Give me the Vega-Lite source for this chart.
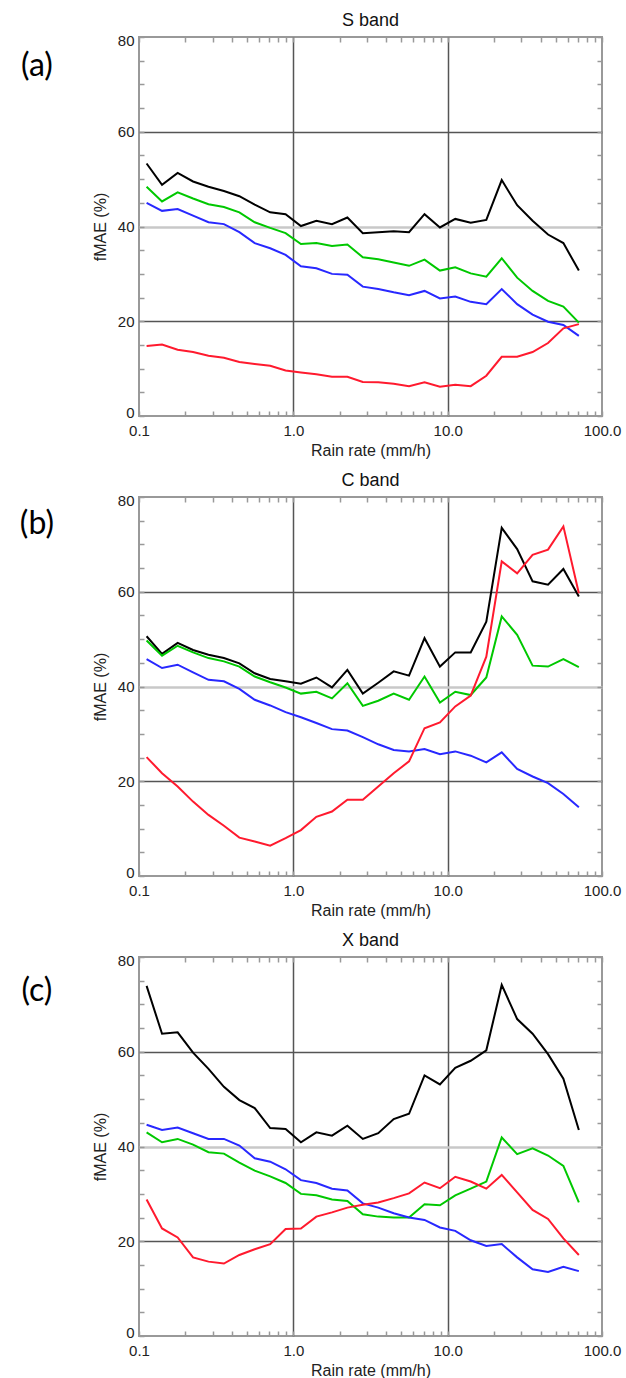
{
"$schema":"https://vega.github.io/schema/vega-lite/v6.json",
"padding":{"left":18,"top":11,"right":4,"bottom":4},
"spacing":12,
"config":{
 "view":{"stroke":"#999","strokeWidth":2},
 "font":"Liberation Sans",
 "axis":{"labelFont":"Liberation Sans","labelFontSize":15,"labelColor":"#222","titleFont":"Liberation Sans","titleFontSize":16,"titleFontWeight":"normal","titleColor":"#222","domain":false,"tickColor":"#999","tickWidth":1.5,"labelOverlap":false,"labelFlush":false},
 "title":{"font":"Liberation Sans","fontSize":18,"fontWeight":"normal","color":"#111","offset":3}
},
"datasets":{"fmae":[
{"band":"S","series":"black","rate":0.112,"fmae":53.3},{"band":"S","series":"black","rate":0.141,"fmae":48.8},{"band":"S","series":"black","rate":0.178,"fmae":51.3},{"band":"S","series":"black","rate":0.224,"fmae":49.5},{"band":"S","series":"black","rate":0.282,"fmae":48.4},{"band":"S","series":"black","rate":0.355,"fmae":47.5},{"band":"S","series":"black","rate":0.447,"fmae":46.4},{"band":"S","series":"black","rate":0.562,"fmae":44.6},{"band":"S","series":"black","rate":0.708,"fmae":43.0},{"band":"S","series":"black","rate":0.891,"fmae":42.6},{"band":"S","series":"black","rate":1.12,"fmae":40.1},{"band":"S","series":"black","rate":1.41,"fmae":41.2},{"band":"S","series":"black","rate":1.78,"fmae":40.5},{"band":"S","series":"black","rate":2.24,"fmae":41.9},{"band":"S","series":"black","rate":2.82,"fmae":38.6},{"band":"S","series":"black","rate":3.55,"fmae":38.8},{"band":"S","series":"black","rate":4.47,"fmae":39.0},{"band":"S","series":"black","rate":5.62,"fmae":38.8},{"band":"S","series":"black","rate":7.08,"fmae":42.6},{"band":"S","series":"black","rate":8.91,"fmae":39.8},{"band":"S","series":"black","rate":11.2,"fmae":41.6},{"band":"S","series":"black","rate":14.1,"fmae":40.8},{"band":"S","series":"black","rate":17.8,"fmae":41.4},{"band":"S","series":"black","rate":22.4,"fmae":49.8},{"band":"S","series":"black","rate":28.2,"fmae":44.5},{"band":"S","series":"black","rate":35.5,"fmae":41.2},{"band":"S","series":"black","rate":44.7,"fmae":38.3},{"band":"S","series":"black","rate":56.2,"fmae":36.5},{"band":"S","series":"black","rate":70.8,"fmae":30.7},
{"band":"S","series":"green","rate":0.112,"fmae":48.4},{"band":"S","series":"green","rate":0.141,"fmae":45.3},{"band":"S","series":"green","rate":0.178,"fmae":47.2},{"band":"S","series":"green","rate":0.224,"fmae":45.9},{"band":"S","series":"green","rate":0.282,"fmae":44.7},{"band":"S","series":"green","rate":0.355,"fmae":44.1},{"band":"S","series":"green","rate":0.447,"fmae":43.0},{"band":"S","series":"green","rate":0.562,"fmae":40.9},{"band":"S","series":"green","rate":0.708,"fmae":39.7},{"band":"S","series":"green","rate":0.891,"fmae":38.6},{"band":"S","series":"green","rate":1.12,"fmae":36.3},{"band":"S","series":"green","rate":1.41,"fmae":36.5},{"band":"S","series":"green","rate":1.78,"fmae":35.9},{"band":"S","series":"green","rate":2.24,"fmae":36.2},{"band":"S","series":"green","rate":2.82,"fmae":33.5},{"band":"S","series":"green","rate":3.55,"fmae":33.1},{"band":"S","series":"green","rate":4.47,"fmae":32.4},{"band":"S","series":"green","rate":5.62,"fmae":31.7},{"band":"S","series":"green","rate":7.08,"fmae":33.0},{"band":"S","series":"green","rate":8.91,"fmae":30.7},{"band":"S","series":"green","rate":11.2,"fmae":31.4},{"band":"S","series":"green","rate":14.1,"fmae":30.1},{"band":"S","series":"green","rate":17.8,"fmae":29.4},{"band":"S","series":"green","rate":22.4,"fmae":33.3},{"band":"S","series":"green","rate":28.2,"fmae":29.2},{"band":"S","series":"green","rate":35.5,"fmae":26.4},{"band":"S","series":"green","rate":44.7,"fmae":24.3},{"band":"S","series":"green","rate":56.2,"fmae":23.1},{"band":"S","series":"green","rate":70.8,"fmae":19.7},
{"band":"S","series":"blue","rate":0.112,"fmae":45.0},{"band":"S","series":"blue","rate":0.141,"fmae":43.3},{"band":"S","series":"blue","rate":0.178,"fmae":43.7},{"band":"S","series":"blue","rate":0.224,"fmae":42.3},{"band":"S","series":"blue","rate":0.282,"fmae":40.9},{"band":"S","series":"blue","rate":0.355,"fmae":40.5},{"band":"S","series":"blue","rate":0.447,"fmae":38.8},{"band":"S","series":"blue","rate":0.562,"fmae":36.5},{"band":"S","series":"blue","rate":0.708,"fmae":35.4},{"band":"S","series":"blue","rate":0.891,"fmae":34.0},{"band":"S","series":"blue","rate":1.12,"fmae":31.6},{"band":"S","series":"blue","rate":1.41,"fmae":31.2},{"band":"S","series":"blue","rate":1.78,"fmae":30.0},{"band":"S","series":"blue","rate":2.24,"fmae":29.8},{"band":"S","series":"blue","rate":2.82,"fmae":27.3},{"band":"S","series":"blue","rate":3.55,"fmae":26.8},{"band":"S","series":"blue","rate":4.47,"fmae":26.1},{"band":"S","series":"blue","rate":5.62,"fmae":25.5},{"band":"S","series":"blue","rate":7.08,"fmae":26.4},{"band":"S","series":"blue","rate":8.91,"fmae":24.8},{"band":"S","series":"blue","rate":11.2,"fmae":25.2},{"band":"S","series":"blue","rate":14.1,"fmae":24.1},{"band":"S","series":"blue","rate":17.8,"fmae":23.6},{"band":"S","series":"blue","rate":22.4,"fmae":26.8},{"band":"S","series":"blue","rate":28.2,"fmae":23.6},{"band":"S","series":"blue","rate":35.5,"fmae":21.4},{"band":"S","series":"blue","rate":44.7,"fmae":19.9},{"band":"S","series":"blue","rate":56.2,"fmae":19.2},{"band":"S","series":"blue","rate":70.8,"fmae":16.9},
{"band":"S","series":"red","rate":0.112,"fmae":14.8},{"band":"S","series":"red","rate":0.141,"fmae":15.1},{"band":"S","series":"red","rate":0.178,"fmae":14.0},{"band":"S","series":"red","rate":0.224,"fmae":13.5},{"band":"S","series":"red","rate":0.282,"fmae":12.7},{"band":"S","series":"red","rate":0.355,"fmae":12.3},{"band":"S","series":"red","rate":0.447,"fmae":11.4},{"band":"S","series":"red","rate":0.562,"fmae":11.0},{"band":"S","series":"red","rate":0.708,"fmae":10.6},{"band":"S","series":"red","rate":0.891,"fmae":9.6},{"band":"S","series":"red","rate":1.12,"fmae":9.2},{"band":"S","series":"red","rate":1.41,"fmae":8.8},{"band":"S","series":"red","rate":1.78,"fmae":8.3},{"band":"S","series":"red","rate":2.24,"fmae":8.3},{"band":"S","series":"red","rate":2.82,"fmae":7.2},{"band":"S","series":"red","rate":3.55,"fmae":7.1},{"band":"S","series":"red","rate":4.47,"fmae":6.8},{"band":"S","series":"red","rate":5.62,"fmae":6.3},{"band":"S","series":"red","rate":7.08,"fmae":7.1},{"band":"S","series":"red","rate":8.91,"fmae":6.2},{"band":"S","series":"red","rate":11.2,"fmae":6.6},{"band":"S","series":"red","rate":14.1,"fmae":6.3},{"band":"S","series":"red","rate":17.8,"fmae":8.5},{"band":"S","series":"red","rate":22.4,"fmae":12.5},{"band":"S","series":"red","rate":28.2,"fmae":12.5},{"band":"S","series":"red","rate":35.5,"fmae":13.5},{"band":"S","series":"red","rate":44.7,"fmae":15.4},{"band":"S","series":"red","rate":56.2,"fmae":18.5},{"band":"S","series":"red","rate":70.8,"fmae":19.4},
{"band":"C","series":"black","rate":0.112,"fmae":50.6},{"band":"C","series":"black","rate":0.141,"fmae":46.9},{"band":"C","series":"black","rate":0.178,"fmae":49.2},{"band":"C","series":"black","rate":0.224,"fmae":47.7},{"band":"C","series":"black","rate":0.282,"fmae":46.7},{"band":"C","series":"black","rate":0.355,"fmae":46.0},{"band":"C","series":"black","rate":0.447,"fmae":44.9},{"band":"C","series":"black","rate":0.562,"fmae":42.8},{"band":"C","series":"black","rate":0.708,"fmae":41.6},{"band":"C","series":"black","rate":0.891,"fmae":41.1},{"band":"C","series":"black","rate":1.12,"fmae":40.6},{"band":"C","series":"black","rate":1.41,"fmae":41.9},{"band":"C","series":"black","rate":1.78,"fmae":39.8},{"band":"C","series":"black","rate":2.24,"fmae":43.5},{"band":"C","series":"black","rate":2.82,"fmae":38.5},{"band":"C","series":"black","rate":3.55,"fmae":40.8},{"band":"C","series":"black","rate":4.47,"fmae":43.2},{"band":"C","series":"black","rate":5.62,"fmae":42.3},{"band":"C","series":"black","rate":7.08,"fmae":50.2},{"band":"C","series":"black","rate":8.91,"fmae":44.2},{"band":"C","series":"black","rate":11.2,"fmae":47.2},{"band":"C","series":"black","rate":14.1,"fmae":47.2},{"band":"C","series":"black","rate":17.8,"fmae":53.7},{"band":"C","series":"black","rate":22.4,"fmae":73.5},{"band":"C","series":"black","rate":28.2,"fmae":69.0},{"band":"C","series":"black","rate":35.5,"fmae":62.2},{"band":"C","series":"black","rate":44.7,"fmae":61.5},{"band":"C","series":"black","rate":56.2,"fmae":64.8},{"band":"C","series":"black","rate":70.8,"fmae":59.0},
{"band":"C","series":"green","rate":0.112,"fmae":49.7},{"band":"C","series":"green","rate":0.141,"fmae":46.5},{"band":"C","series":"green","rate":0.178,"fmae":48.6},{"band":"C","series":"green","rate":0.224,"fmae":47.2},{"band":"C","series":"green","rate":0.282,"fmae":46.0},{"band":"C","series":"green","rate":0.355,"fmae":45.3},{"band":"C","series":"green","rate":0.447,"fmae":44.2},{"band":"C","series":"green","rate":0.562,"fmae":42.1},{"band":"C","series":"green","rate":0.708,"fmae":40.9},{"band":"C","series":"green","rate":0.891,"fmae":39.8},{"band":"C","series":"green","rate":1.12,"fmae":38.5},{"band":"C","series":"green","rate":1.41,"fmae":38.9},{"band":"C","series":"green","rate":1.78,"fmae":37.5},{"band":"C","series":"green","rate":2.24,"fmae":40.7},{"band":"C","series":"green","rate":2.82,"fmae":35.9},{"band":"C","series":"green","rate":3.55,"fmae":37.0},{"band":"C","series":"green","rate":4.47,"fmae":38.5},{"band":"C","series":"green","rate":5.62,"fmae":37.2},{"band":"C","series":"green","rate":7.08,"fmae":42.1},{"band":"C","series":"green","rate":8.91,"fmae":36.6},{"band":"C","series":"green","rate":11.2,"fmae":38.9},{"band":"C","series":"green","rate":14.1,"fmae":38.2},{"band":"C","series":"green","rate":17.8,"fmae":41.9},{"band":"C","series":"green","rate":22.4,"fmae":54.8},{"band":"C","series":"green","rate":28.2,"fmae":50.9},{"band":"C","series":"green","rate":35.5,"fmae":44.4},{"band":"C","series":"green","rate":44.7,"fmae":44.2},{"band":"C","series":"green","rate":56.2,"fmae":45.8},{"band":"C","series":"green","rate":70.8,"fmae":44.1},
{"band":"C","series":"blue","rate":0.112,"fmae":45.8},{"band":"C","series":"blue","rate":0.141,"fmae":43.9},{"band":"C","series":"blue","rate":0.178,"fmae":44.6},{"band":"C","series":"blue","rate":0.224,"fmae":43.0},{"band":"C","series":"blue","rate":0.282,"fmae":41.4},{"band":"C","series":"blue","rate":0.355,"fmae":41.1},{"band":"C","series":"blue","rate":0.447,"fmae":39.5},{"band":"C","series":"blue","rate":0.562,"fmae":37.2},{"band":"C","series":"blue","rate":0.708,"fmae":36.0},{"band":"C","series":"blue","rate":0.891,"fmae":34.6},{"band":"C","series":"blue","rate":1.12,"fmae":33.5},{"band":"C","series":"blue","rate":1.41,"fmae":32.3},{"band":"C","series":"blue","rate":1.78,"fmae":31.0},{"band":"C","series":"blue","rate":2.24,"fmae":30.7},{"band":"C","series":"blue","rate":2.82,"fmae":29.3},{"band":"C","series":"blue","rate":3.55,"fmae":27.8},{"band":"C","series":"blue","rate":4.47,"fmae":26.6},{"band":"C","series":"blue","rate":5.62,"fmae":26.3},{"band":"C","series":"blue","rate":7.08,"fmae":26.8},{"band":"C","series":"blue","rate":8.91,"fmae":25.7},{"band":"C","series":"blue","rate":11.2,"fmae":26.3},{"band":"C","series":"blue","rate":14.1,"fmae":25.4},{"band":"C","series":"blue","rate":17.8,"fmae":24.0},{"band":"C","series":"blue","rate":22.4,"fmae":26.1},{"band":"C","series":"blue","rate":28.2,"fmae":22.6},{"band":"C","series":"blue","rate":35.5,"fmae":21.0},{"band":"C","series":"blue","rate":44.7,"fmae":19.6},{"band":"C","series":"blue","rate":56.2,"fmae":17.3},{"band":"C","series":"blue","rate":70.8,"fmae":14.5},
{"band":"C","series":"red","rate":0.112,"fmae":25.1},{"band":"C","series":"red","rate":0.141,"fmae":21.7},{"band":"C","series":"red","rate":0.178,"fmae":18.9},{"band":"C","series":"red","rate":0.224,"fmae":15.7},{"band":"C","series":"red","rate":0.282,"fmae":12.9},{"band":"C","series":"red","rate":0.355,"fmae":10.6},{"band":"C","series":"red","rate":0.447,"fmae":8.1},{"band":"C","series":"red","rate":0.562,"fmae":7.3},{"band":"C","series":"red","rate":0.708,"fmae":6.4},{"band":"C","series":"red","rate":0.891,"fmae":8.0},{"band":"C","series":"red","rate":1.12,"fmae":9.7},{"band":"C","series":"red","rate":1.41,"fmae":12.5},{"band":"C","series":"red","rate":1.78,"fmae":13.6},{"band":"C","series":"red","rate":2.24,"fmae":16.1},{"band":"C","series":"red","rate":2.82,"fmae":16.1},{"band":"C","series":"red","rate":3.55,"fmae":18.9},{"band":"C","series":"red","rate":4.47,"fmae":21.7},{"band":"C","series":"red","rate":5.62,"fmae":24.2},{"band":"C","series":"red","rate":7.08,"fmae":31.2},{"band":"C","series":"red","rate":8.91,"fmae":32.4},{"band":"C","series":"red","rate":11.2,"fmae":35.8},{"band":"C","series":"red","rate":14.1,"fmae":38.1},{"band":"C","series":"red","rate":17.8,"fmae":46.3},{"band":"C","series":"red","rate":22.4,"fmae":66.4},{"band":"C","series":"red","rate":28.2,"fmae":63.9},{"band":"C","series":"red","rate":35.5,"fmae":67.8},{"band":"C","series":"red","rate":44.7,"fmae":68.9},{"band":"C","series":"red","rate":56.2,"fmae":73.8},{"band":"C","series":"red","rate":70.8,"fmae":59.7},
{"band":"X","series":"black","rate":0.112,"fmae":73.9},{"band":"X","series":"black","rate":0.141,"fmae":63.8},{"band":"X","series":"black","rate":0.178,"fmae":64.1},{"band":"X","series":"black","rate":0.224,"fmae":59.8},{"band":"X","series":"black","rate":0.282,"fmae":56.4},{"band":"X","series":"black","rate":0.355,"fmae":52.6},{"band":"X","series":"black","rate":0.447,"fmae":49.8},{"band":"X","series":"black","rate":0.562,"fmae":48.1},{"band":"X","series":"black","rate":0.708,"fmae":43.9},{"band":"X","series":"black","rate":0.891,"fmae":43.7},{"band":"X","series":"black","rate":1.12,"fmae":40.9},{"band":"X","series":"black","rate":1.41,"fmae":43.0},{"band":"X","series":"black","rate":1.78,"fmae":42.3},{"band":"X","series":"black","rate":2.24,"fmae":44.4},{"band":"X","series":"black","rate":2.82,"fmae":41.6},{"band":"X","series":"black","rate":3.55,"fmae":42.8},{"band":"X","series":"black","rate":4.47,"fmae":45.8},{"band":"X","series":"black","rate":5.62,"fmae":46.9},{"band":"X","series":"black","rate":7.08,"fmae":55.0},{"band":"X","series":"black","rate":8.91,"fmae":53.1},{"band":"X","series":"black","rate":11.2,"fmae":56.6},{"band":"X","series":"black","rate":14.1,"fmae":58.1},{"band":"X","series":"black","rate":17.8,"fmae":60.3},{"band":"X","series":"black","rate":22.4,"fmae":74.1},{"band":"X","series":"black","rate":28.2,"fmae":66.9},{"band":"X","series":"black","rate":35.5,"fmae":63.8},{"band":"X","series":"black","rate":44.7,"fmae":59.5},{"band":"X","series":"black","rate":56.2,"fmae":54.3},{"band":"X","series":"black","rate":70.8,"fmae":43.5},
{"band":"X","series":"green","rate":0.112,"fmae":43.0},{"band":"X","series":"green","rate":0.141,"fmae":40.9},{"band":"X","series":"green","rate":0.178,"fmae":41.6},{"band":"X","series":"green","rate":0.224,"fmae":40.4},{"band":"X","series":"green","rate":0.282,"fmae":38.8},{"band":"X","series":"green","rate":0.355,"fmae":38.5},{"band":"X","series":"green","rate":0.447,"fmae":36.6},{"band":"X","series":"green","rate":0.562,"fmae":34.9},{"band":"X","series":"green","rate":0.708,"fmae":33.7},{"band":"X","series":"green","rate":0.891,"fmae":32.3},{"band":"X","series":"green","rate":1.12,"fmae":30.0},{"band":"X","series":"green","rate":1.41,"fmae":29.7},{"band":"X","series":"green","rate":1.78,"fmae":28.8},{"band":"X","series":"green","rate":2.24,"fmae":28.5},{"band":"X","series":"green","rate":2.82,"fmae":25.7},{"band":"X","series":"green","rate":3.55,"fmae":25.2},{"band":"X","series":"green","rate":4.47,"fmae":25.0},{"band":"X","series":"green","rate":5.62,"fmae":25.0},{"band":"X","series":"green","rate":7.08,"fmae":27.8},{"band":"X","series":"green","rate":8.91,"fmae":27.6},{"band":"X","series":"green","rate":11.2,"fmae":29.7},{"band":"X","series":"green","rate":14.1,"fmae":31.1},{"band":"X","series":"green","rate":17.8,"fmae":32.6},{"band":"X","series":"green","rate":22.4,"fmae":41.9},{"band":"X","series":"green","rate":28.2,"fmae":38.4},{"band":"X","series":"green","rate":35.5,"fmae":39.6},{"band":"X","series":"green","rate":44.7,"fmae":38.1},{"band":"X","series":"green","rate":56.2,"fmae":35.9},{"band":"X","series":"green","rate":70.8,"fmae":28.2},
{"band":"X","series":"blue","rate":0.112,"fmae":44.6},{"band":"X","series":"blue","rate":0.141,"fmae":43.5},{"band":"X","series":"blue","rate":0.178,"fmae":44.0},{"band":"X","series":"blue","rate":0.224,"fmae":42.8},{"band":"X","series":"blue","rate":0.282,"fmae":41.6},{"band":"X","series":"blue","rate":0.355,"fmae":41.6},{"band":"X","series":"blue","rate":0.447,"fmae":40.2},{"band":"X","series":"blue","rate":0.562,"fmae":37.5},{"band":"X","series":"blue","rate":0.708,"fmae":36.8},{"band":"X","series":"blue","rate":0.891,"fmae":35.2},{"band":"X","series":"blue","rate":1.12,"fmae":32.9},{"band":"X","series":"blue","rate":1.41,"fmae":32.3},{"band":"X","series":"blue","rate":1.78,"fmae":31.1},{"band":"X","series":"blue","rate":2.24,"fmae":30.7},{"band":"X","series":"blue","rate":2.82,"fmae":28.0},{"band":"X","series":"blue","rate":3.55,"fmae":27.1},{"band":"X","series":"blue","rate":4.47,"fmae":25.9},{"band":"X","series":"blue","rate":5.62,"fmae":25.0},{"band":"X","series":"blue","rate":7.08,"fmae":24.5},{"band":"X","series":"blue","rate":8.91,"fmae":22.9},{"band":"X","series":"blue","rate":11.2,"fmae":22.2},{"band":"X","series":"blue","rate":14.1,"fmae":20.2},{"band":"X","series":"blue","rate":17.8,"fmae":19.0},{"band":"X","series":"blue","rate":22.4,"fmae":19.4},{"band":"X","series":"blue","rate":28.2,"fmae":16.6},{"band":"X","series":"blue","rate":35.5,"fmae":14.1},{"band":"X","series":"blue","rate":44.7,"fmae":13.5},{"band":"X","series":"blue","rate":56.2,"fmae":14.6},{"band":"X","series":"blue","rate":70.8,"fmae":13.7},
{"band":"X","series":"red","rate":0.112,"fmae":28.8},{"band":"X","series":"red","rate":0.141,"fmae":22.7},{"band":"X","series":"red","rate":0.178,"fmae":20.8},{"band":"X","series":"red","rate":0.224,"fmae":16.6},{"band":"X","series":"red","rate":0.282,"fmae":15.7},{"band":"X","series":"red","rate":0.355,"fmae":15.3},{"band":"X","series":"red","rate":0.447,"fmae":17.1},{"band":"X","series":"red","rate":0.562,"fmae":18.3},{"band":"X","series":"red","rate":0.708,"fmae":19.4},{"band":"X","series":"red","rate":0.891,"fmae":22.6},{"band":"X","series":"red","rate":1.12,"fmae":22.7},{"band":"X","series":"red","rate":1.41,"fmae":25.2},{"band":"X","series":"red","rate":1.78,"fmae":26.1},{"band":"X","series":"red","rate":2.24,"fmae":27.1},{"band":"X","series":"red","rate":2.82,"fmae":27.7},{"band":"X","series":"red","rate":3.55,"fmae":28.2},{"band":"X","series":"red","rate":4.47,"fmae":29.1},{"band":"X","series":"red","rate":5.62,"fmae":30.1},{"band":"X","series":"red","rate":7.08,"fmae":32.4},{"band":"X","series":"red","rate":8.91,"fmae":31.2},{"band":"X","series":"red","rate":11.2,"fmae":33.6},{"band":"X","series":"red","rate":14.1,"fmae":32.6},{"band":"X","series":"red","rate":17.8,"fmae":31.1},{"band":"X","series":"red","rate":22.4,"fmae":34.0},{"band":"X","series":"red","rate":28.2,"fmae":30.3},{"band":"X","series":"red","rate":35.5,"fmae":26.6},{"band":"X","series":"red","rate":44.7,"fmae":24.7},{"band":"X","series":"red","rate":56.2,"fmae":20.6},{"band":"X","series":"red","rate":70.8,"fmae":17.1}
]},
"vconcat":[
{"width":463,"height":379,"title":"S band",
 "layer":[
  {"data":{"name":"fmae"},"transform":[{"filter":"datum.band == 'S'"}],
   "mark":{"type":"line","strokeWidth":2,"clip":true},
   "encoding":{
    "x":{"field":"rate","type":"quantitative","scale":{"type":"log","domain":[0.1,100],"nice":false},
     "axis":{"orient":"bottom","title":"Rain rate (mm/h)","titlePadding":4,"values":[0.1,0.2,0.3,0.4,0.5,0.6,0.7,0.8,0.9,1,2,3,4,5,6,7,8,9,10,20,30,40,50,60,70,80,90,100],"labelExpr":"(datum.value == 0.1 || datum.value == 1 || datum.value == 10 || datum.value == 100) ? format(datum.value, '.1f') : ''","tickSize":-5,"labelPadding":12,"grid":true,"gridColor":"#555","gridWidth":1.5,"gridOpacity":{"condition":{"test":"datum.value == 1 || datum.value == 10","value":1},"value":0}}},
    "y":{"field":"fmae","type":"quantitative","scale":{"domain":[0,80],"nice":false,"zero":false},
     "axis":{"title":"fMAE (%)","titlePadding":9,"values":[0,5,10,15,20,25,30,35,40,45,50,55,60,65,70,75,80],"labelExpr":"datum.value % 20 == 0 ? datum.label : ''","labelFlush":true,"labelFlushOffset":4,"tickSize":-5,"labelPadding":10,"grid":true,"gridColor":{"condition":{"test":"datum.value == 40","value":"#c8c8c8"},"value":"#555"},"gridWidth":{"condition":{"test":"datum.value == 40","value":2.5},"value":1.5},"gridOpacity":{"condition":{"test":"datum.value == 20 || datum.value == 40 || datum.value == 60","value":1},"value":0}}},
    "color":{"field":"series","type":"nominal","scale":{"domain":["black","green","blue","red"],"range":["#000000","#00c800","#2828ff","#ff1a2e"]},"legend":null}
   }},
  {"data":{"values":[{"panel":"(a)"}]},
   "mark":{"type":"text","font":"Lato","fontSize":32,"align":"center","baseline":"middle","color":"#000"},
   "encoding":{
    "x":{"datum":0.0218,"type":"quantitative","scale":{"type":"log","domain":[0.1,100],"nice":false},"axis":{"orient":"top","title":null,"labels":false,"values":[0.1,0.2,0.3,0.4,0.5,0.6,0.7,0.8,0.9,1,2,3,4,5,6,7,8,9,10,20,30,40,50,60,70,80,90,100],"tickSize":-5,"grid":false}},
    "y":{"datum":73.9,"type":"quantitative","scale":{"domain":[0,80],"nice":false,"zero":false},"axis":{"orient":"right","title":null,"labels":false,"values":[0,5,10,15,20,25,30,35,40,45,50,55,60,65,70,75,80],"tickSize":-5,"grid":false}},
    "text":{"field":"panel"}
   }}
 ],
 "resolve":{"axis":{"x":"independent","y":"independent"}}
},
{"width":463,"height":379,"title":"C band",
 "layer":[
  {"data":{"name":"fmae"},"transform":[{"filter":"datum.band == 'C'"}],
   "mark":{"type":"line","strokeWidth":2,"clip":true},
   "encoding":{
    "x":{"field":"rate","type":"quantitative","scale":{"type":"log","domain":[0.1,100],"nice":false},
     "axis":{"orient":"bottom","title":"Rain rate (mm/h)","titlePadding":4,"values":[0.1,0.2,0.3,0.4,0.5,0.6,0.7,0.8,0.9,1,2,3,4,5,6,7,8,9,10,20,30,40,50,60,70,80,90,100],"labelExpr":"(datum.value == 0.1 || datum.value == 1 || datum.value == 10 || datum.value == 100) ? format(datum.value, '.1f') : ''","tickSize":-5,"labelPadding":12,"grid":true,"gridColor":"#555","gridWidth":1.5,"gridOpacity":{"condition":{"test":"datum.value == 1 || datum.value == 10","value":1},"value":0}}},
    "y":{"field":"fmae","type":"quantitative","scale":{"domain":[0,80],"nice":false,"zero":false},
     "axis":{"title":"fMAE (%)","titlePadding":9,"values":[0,5,10,15,20,25,30,35,40,45,50,55,60,65,70,75,80],"labelExpr":"datum.value % 20 == 0 ? datum.label : ''","labelFlush":true,"labelFlushOffset":4,"tickSize":-5,"labelPadding":10,"grid":true,"gridColor":{"condition":{"test":"datum.value == 40","value":"#c8c8c8"},"value":"#555"},"gridWidth":{"condition":{"test":"datum.value == 40","value":2.5},"value":1.5},"gridOpacity":{"condition":{"test":"datum.value == 20 || datum.value == 40 || datum.value == 60","value":1},"value":0}}},
    "color":{"field":"series","type":"nominal","scale":{"domain":["black","green","blue","red"],"range":["#000000","#00c800","#2828ff","#ff1a2e"]},"legend":null}
   }},
  {"data":{"values":[{"panel":"(b)"}]},
   "mark":{"type":"text","font":"Lato","fontSize":32,"align":"center","baseline":"middle","color":"#000"},
   "encoding":{
    "x":{"datum":0.0218,"type":"quantitative","scale":{"type":"log","domain":[0.1,100],"nice":false},"axis":{"orient":"top","title":null,"labels":false,"values":[0.1,0.2,0.3,0.4,0.5,0.6,0.7,0.8,0.9,1,2,3,4,5,6,7,8,9,10,20,30,40,50,60,70,80,90,100],"tickSize":-5,"grid":false}},
    "y":{"datum":74.3,"type":"quantitative","scale":{"domain":[0,80],"nice":false,"zero":false},"axis":{"orient":"right","title":null,"labels":false,"values":[0,5,10,15,20,25,30,35,40,45,50,55,60,65,70,75,80],"tickSize":-5,"grid":false}},
    "text":{"field":"panel"}
   }}
 ],
 "resolve":{"axis":{"x":"independent","y":"independent"}}
},
{"width":463,"height":379,"title":"X band",
 "layer":[
  {"data":{"name":"fmae"},"transform":[{"filter":"datum.band == 'X'"}],
   "mark":{"type":"line","strokeWidth":2,"clip":true},
   "encoding":{
    "x":{"field":"rate","type":"quantitative","scale":{"type":"log","domain":[0.1,100],"nice":false},
     "axis":{"orient":"bottom","title":"Rain rate (mm/h)","titlePadding":4,"values":[0.1,0.2,0.3,0.4,0.5,0.6,0.7,0.8,0.9,1,2,3,4,5,6,7,8,9,10,20,30,40,50,60,70,80,90,100],"labelExpr":"(datum.value == 0.1 || datum.value == 1 || datum.value == 10 || datum.value == 100) ? format(datum.value, '.1f') : ''","tickSize":-5,"labelPadding":12,"grid":true,"gridColor":"#555","gridWidth":1.5,"gridOpacity":{"condition":{"test":"datum.value == 1 || datum.value == 10","value":1},"value":0}}},
    "y":{"field":"fmae","type":"quantitative","scale":{"domain":[0,80],"nice":false,"zero":false},
     "axis":{"title":"fMAE (%)","titlePadding":9,"values":[0,5,10,15,20,25,30,35,40,45,50,55,60,65,70,75,80],"labelExpr":"datum.value % 20 == 0 ? datum.label : ''","labelFlush":true,"labelFlushOffset":4,"tickSize":-5,"labelPadding":10,"grid":true,"gridColor":{"condition":{"test":"datum.value == 40","value":"#c8c8c8"},"value":"#555"},"gridWidth":{"condition":{"test":"datum.value == 40","value":2.5},"value":1.5},"gridOpacity":{"condition":{"test":"datum.value == 20 || datum.value == 40 || datum.value == 60","value":1},"value":0}}},
    "color":{"field":"series","type":"nominal","scale":{"domain":["black","green","blue","red"],"range":["#000000","#00c800","#2828ff","#ff1a2e"]},"legend":null}
   }},
  {"data":{"values":[{"panel":"(c)"}]},
   "mark":{"type":"text","font":"Lato","fontSize":32,"align":"center","baseline":"middle","color":"#000"},
   "encoding":{
    "x":{"datum":0.0218,"type":"quantitative","scale":{"type":"log","domain":[0.1,100],"nice":false},"axis":{"orient":"top","title":null,"labels":false,"values":[0.1,0.2,0.3,0.4,0.5,0.6,0.7,0.8,0.9,1,2,3,4,5,6,7,8,9,10,20,30,40,50,60,70,80,90,100],"tickSize":-5,"grid":false}},
    "y":{"datum":72.8,"type":"quantitative","scale":{"domain":[0,80],"nice":false,"zero":false},"axis":{"orient":"right","title":null,"labels":false,"values":[0,5,10,15,20,25,30,35,40,45,50,55,60,65,70,75,80],"tickSize":-5,"grid":false}},
    "text":{"field":"panel"}
   }}
 ],
 "resolve":{"axis":{"x":"independent","y":"independent"}}
}
]
}
